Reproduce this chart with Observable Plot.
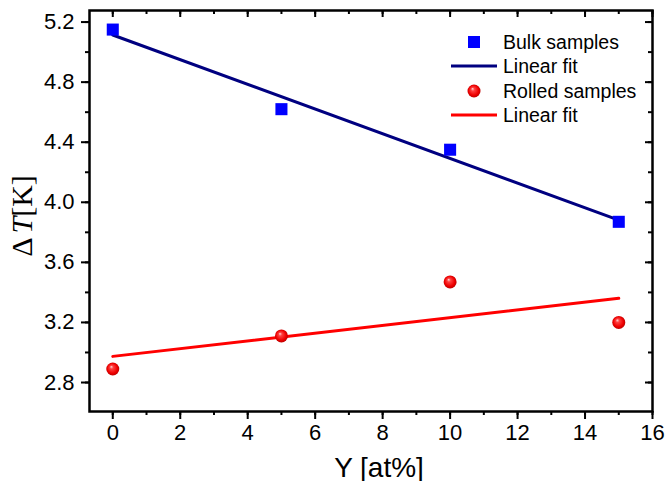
<!DOCTYPE html>
<html>
<head>
<meta charset="utf-8">
<script src="https://cdn.jsdelivr.net/npm/d3@7"></script>
<script src="https://cdn.jsdelivr.net/npm/@observablehq/plot@0.6"></script>
<style>
  html, body { margin: 0; padding: 0; background: #fff; }
  svg { display: block; }
</style>
</head>
<body>
<div id="chart"></div>
<script>
// ---- data ----
const compositions = [0, 5, 10, 15];
const bulkValues = [5.15, 4.62, 4.35, 3.87];
const rolledValues = [2.89, 3.11, 3.47, 3.20];

const xMajorTicks = [0, 2, 4, 6, 8, 10, 12, 14, 16];
const xMinorTicks = [0, 1, 2, 3, 4, 5, 6, 7, 8, 9, 10, 11, 12, 13, 14, 15, 16];
const yMajorTicks = [2.8, 3.2, 3.6, 4.0, 4.4, 4.8, 5.2];
const yMinorTicks = [2.8, 3.0, 3.2, 3.4, 3.6, 3.8, 4.0, 4.2, 4.4, 4.6, 4.8, 5.0, 5.2];

const legendLabels = ["Bulk samples", "Linear fit", "Rolled samples", "Linear fit"];
const xLabel = "Y [at%]";
const yLabel = "ΔT[K]";

// ---- tables ----
const bulk = compositions.map((x, i) => ({x, y: bulkValues[i]}));
const rolled = compositions.map((x, i) => ({x, y: rolledValues[i]}));

const W = 667, H = 481;
const mL = 89, mR = 15, mT = 10, mB = 70;
const fw = W - mL - mR, fh = H - mT - mB;
const font = "Arial, 'Liberation Sans', sans-serif";

const chart = Plot.plot({
  width: W,
  height: H,
  marginLeft: mL,
  marginRight: mR,
  marginTop: mT,
  marginBottom: mB,
  style: {fontFamily: font, fontSize: "22px", color: "black", background: "white", overflow: "visible"},
  x: {domain: [-0.69, 16]},
  y: {domain: [2.607, 5.277]},
  marks: [
    // bottom axis
    Plot.axisX({ticks: xMinorTicks, tickSize: 4, text: null, strokeWidth: 2, label: null}),
    Plot.axisX({ticks: xMajorTicks, tickSize: 8, tickPadding: 5, strokeWidth: 2, fontSize: 22, label: null}),
    // left axis
    Plot.axisY({ticks: yMinorTicks, tickSize: 4, text: null, strokeWidth: 2, label: null}),
    Plot.axisY({ticks: yMajorTicks, tickSize: 8, tickPadding: 7, strokeWidth: 2, fontSize: 22, tickFormat: d3.format(".1f"), label: null}),
    // mirror ticks (inward) top & right
    Plot.ruleX(xMajorTicks, {x: d => d, insetBottom: fh - 7, stroke: "black", strokeWidth: 2}),
    Plot.ruleX(xMinorTicks, {x: d => d, insetBottom: fh - 4, stroke: "black", strokeWidth: 2}),
    Plot.ruleY(yMajorTicks, {y: d => d, insetLeft: fw - 7, stroke: "black", strokeWidth: 2}),
    Plot.ruleY(yMinorTicks, {y: d => d, insetLeft: fw - 4, stroke: "black", strokeWidth: 2}),
    // fits
    Plot.linearRegressionY(bulk, {x: "x", y: "y", stroke: "#000080", strokeWidth: 3, ci: 0}),
    Plot.linearRegressionY(rolled, {x: "x", y: "y", stroke: "#ff0000", strokeWidth: 3, ci: 0}),
    // points
    Plot.dot(bulk, {x: "x", y: "y", symbol: "square", r: 6.8, fill: "#0000ff", stroke: "none"}),
    Plot.dot(rolled, {x: "x", y: "y", r: 6.5, fill: "url(#sphereGrad)", stroke: "none"}),
    // frame
    Plot.frame({stroke: "black", strokeWidth: 2.5}),
    // axis titles
    Plot.text([xLabel], {text: d => d, frameAnchor: "bottom", lineAnchor: "bottom", dy: 65, dx: 8, fontSize: 28, fill: "black"}),
    Plot.text([yLabel], {text: d => d, frameAnchor: "left", textAnchor: "middle", lineAnchor: "middle", rotate: -90, dx: -67, dy: 5, fontSize: 30, fill: "black", fontFamily: "'Liberation Serif', 'Times New Roman', serif"})
  ]
});

document.getElementById("chart").appendChild(chart);

const svg = d3.select(chart);

// sphere gradient
const defs = svg.insert("defs", ":first-child");
const grad = defs.append("radialGradient")
  .attr("id", "sphereGrad")
  .attr("cx", "0.5").attr("cy", "0.5").attr("r", "0.55")
  .attr("fx", "0.38").attr("fy", "0.32");
grad.append("stop").attr("offset", "0").attr("stop-color", "#ffd6d6");
grad.append("stop").attr("offset", "0.25").attr("stop-color", "#ff4040");
grad.append("stop").attr("offset", "0.7").attr("stop-color", "#ee0000");
grad.append("stop").attr("offset", "1").attr("stop-color", "#b00000");

// y label with italic T
svg.selectAll("text").filter(function() { return this.textContent === yLabel; })
  .each(function() {
    const t = d3.select(this);
    t.text(null);
    t.append("tspan").text("Δ");
    t.append("tspan").attr("font-style", "italic").attr("dx", "4").text("T");
    t.append("tspan").text("[K]");
  });

// legend (inside plot, top right)
const lg = svg.append("g")
  .attr("font-family", font)
  .attr("font-size", 19.5)
  .attr("fill", "black")
  .attr("text-anchor", "start");
const rowY = [42, 66, 91, 115];
const symX = 474, lineX1 = 451, lineX2 = 497, textX = 503;
lg.append("rect").attr("x", symX - 6).attr("y", rowY[0] - 6).attr("width", 12).attr("height", 12).attr("fill", "#0000ff");
lg.append("line").attr("x1", lineX1).attr("x2", lineX2).attr("y1", rowY[1]).attr("y2", rowY[1]).attr("stroke", "#000080").attr("stroke-width", 3);
lg.append("circle").attr("cx", symX).attr("cy", rowY[2]).attr("r", 6.5).attr("fill", "url(#sphereGrad)");
lg.append("line").attr("x1", lineX1).attr("x2", lineX2).attr("y1", rowY[3]).attr("y2", rowY[3]).attr("stroke", "#ff0000").attr("stroke-width", 3);
legendLabels.forEach((s, i) => {
  lg.append("text")
    .attr("x", textX)
    .attr("y", rowY[i])
    .attr("dy", "0.35em")
    .attr("text-anchor", "start")
    .text(s);
});
</script>
</body>
</html>
